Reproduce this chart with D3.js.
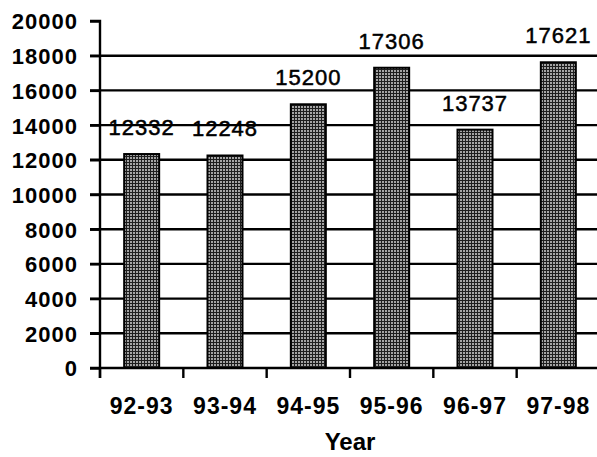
<html>
<head>
    <meta charset="utf-8">
    <title>Year chart</title>
    <script src="https://d3js.org/d3.v7.min.js"></script>
    <style>
        body { margin: 0; background: #fff; }
        text { font-family: "Liberation Sans", Arial, sans-serif; fill: #000; }
    </style>
</head>
<body>
<script>
    var years = ["92-93", "93-94", "94-95", "95-96", "96-97", "97-98"];
    var counts = [12332, 12248, 15200, 17306, 13737, 17621];
    var yTicks = [0, 2000, 4000, 6000, 8000, 10000, 12000, 14000, 16000, 18000, 20000];

    var width = 597,
        height = 457,
        plotLeft = 100,
        plotRight = 600,
        plotTop = 21,
        plotBottom = 368;

    var svg = d3.select("body").append("svg")
        .attr("width", width)
        .attr("height", height);

    // halftone-ish fill like the scanned bars
    var pat = svg.append("defs").append("pattern")
        .attr("id", "dots")
        .attr("width", 3)
        .attr("height", 3)
        .attr("patternUnits", "userSpaceOnUse");
    pat.append("rect").attr("width", 3).attr("height", 3).attr("fill", "#1e1e1e");
    pat.append("rect").attr("x", 1).attr("y", 1).attr("width", 2).attr("height", 2).attr("fill", "#a4a4a4");

    var x = d3.scaleBand().domain(years).range([plotLeft, plotRight]).paddingInner(0.58).paddingOuter(0.29);
    var xTick = d3.scaleBand().domain(years).range([plotLeft, plotRight]);
    var y = d3.scaleLinear().domain([0, 20000]).range([plotBottom, plotTop]);

    // gridlines (not at the top value)
    svg.append("g").selectAll("line")
        .data(yTicks.filter(function (d) { return d > 0 && d < 20000; }))
        .enter().append("line")
        .attr("x1", plotLeft - 10)
        .attr("x2", width)
        .attr("y1", function (d) { return y(d); })
        .attr("y2", function (d) { return y(d); })
        .attr("stroke", "#000")
        .attr("stroke-width", 2.4);

    // y axis
    var yAxis = svg.append("g")
        .attr("transform", "translate(" + plotLeft + ",0)")
        .call(d3.axisLeft(y).tickValues(yTicks).tickSize(10).tickPadding(12).tickFormat(d3.format("d")));
    yAxis.select(".domain").attr("stroke-width", 2.4).attr("d", "M-10," + y(20000) + "H0V" + (plotBottom + 10));
    yAxis.selectAll(".tick line").attr("stroke-width", 2.4);
    yAxis.selectAll("text")
        .style("font-size", "22px")
        .style("font-weight", "bold")
        .style("letter-spacing", "1px")
        .attr("dy", "0.36em");

    // x axis
    var xAxis = svg.append("g")
        .attr("transform", "translate(0," + plotBottom + ")")
        .call(d3.axisBottom(xTick).tickSize(0).tickPadding(30));
    xAxis.select(".domain").remove();
    xAxis.selectAll("text")
        .style("font-size", "23px")
        .style("font-weight", "bold")
        .style("letter-spacing", "1px");
    svg.append("line")
        .attr("x1", plotLeft - 10).attr("x2", width)
        .attr("y1", plotBottom).attr("y2", plotBottom)
        .attr("stroke", "#000").attr("stroke-width", 2.4);
    svg.append("g").selectAll("line")
        .data(years)
        .enter().append("line")
        .attr("x1", function (d) { return xTick(d); })
        .attr("x2", function (d) { return xTick(d); })
        .attr("y1", plotBottom)
        .attr("y2", plotBottom + 10)
        .attr("stroke", "#000")
        .attr("stroke-width", 2.4);

    // bars
    svg.append("g").selectAll("rect")
        .data(counts)
        .enter().append("rect")
        .attr("x", function (d, i) { return x(years[i]); })
        .attr("y", function (d) { return y(d); })
        .attr("width", x.bandwidth())
        .attr("height", function (d) { return plotBottom - y(d); })
        .attr("fill", "url(#dots)")
        .attr("stroke", "#000")
        .attr("stroke-width", 2);

    // value labels
    svg.append("g").selectAll("text")
        .data(counts)
        .enter().append("text")
        .attr("x", function (d, i) { return x(years[i]) + x.bandwidth() / 2; })
        .attr("y", function (d) { return y(d) - 19; })
        .attr("text-anchor", "middle")
        .attr("stroke", "#000")
        .attr("stroke-width", 0.5)
        .style("font-size", "22px")
        .style("letter-spacing", "1px")
        .text(function (d) { return d; });

    svg.append("text")
        .attr("x", (plotLeft + plotRight) / 2)
        .attr("y", 450)
        .attr("text-anchor", "middle")
        .style("font-size", "24px")
        .style("font-weight", "bold")
        .text("Year");
</script>
</body>
</html>
